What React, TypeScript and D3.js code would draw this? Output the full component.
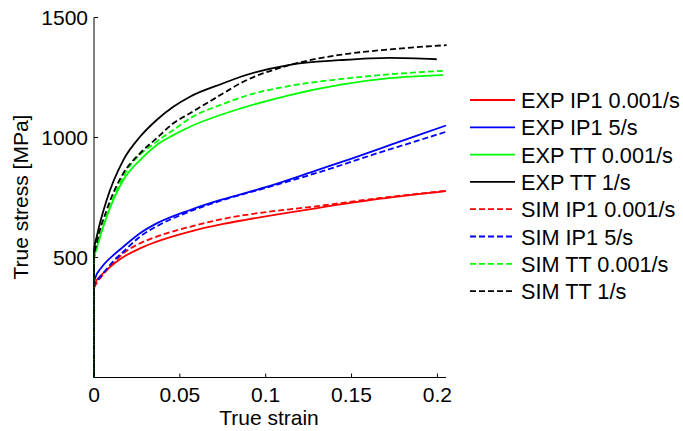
import React from "react";
import * as d3 from "d3";

type Pt = [number, number];

const expIP1Slow: Pt[] = [[0,0],[0,375],[0.001,397],[0.004,425],[0.008,452],[0.012,476],[0.0171,502],[0.0268,538],[0.0365,566],[0.0559,608],[0.0753,640],[0.089,658],[0.13,706],[0.167,745],[0.205,777]];
const expIP1Fast: Pt[] = [[0,0],[0,395],[0.001,420],[0.004,455],[0.0113,510],[0.0171,545],[0.0268,601],[0.0365,642],[0.0559,698],[0.0753,743],[0.089,770],[0.1,793],[0.13,864],[0.15,912],[0.167,955],[0.186,1003],[0.205,1050]];
const expTTSlow: Pt[] = [[0,0],[0,495],[0.0016,540],[0.0074,670],[0.0171,823],[0.0268,906],[0.0365,969],[0.0462,1010],[0.0559,1045],[0.0753,1098],[0.085,1120],[0.114,1177],[0.143,1219],[0.172,1247],[0.2034,1260]];
const expTTFast: Pt[] = [[0,0],[0,530],[0.0016,587],[0.0074,740],[0.0171,906],[0.0268,1003],[0.0365,1073],[0.0462,1128],[0.0559,1170],[0.0753,1226],[0.085,1252],[0.114,1303],[0.143,1322],[0.172,1332],[0.1996,1326]];
const simIP1Slow: Pt[] = [[0,0],[0,370],[0.002,398],[0.006,435],[0.0113,478],[0.0171,517],[0.0268,559],[0.0365,587],[0.0559,628],[0.0753,661],[0.089,678],[0.13,714],[0.167,748],[0.205,778]];
const simIP1Fast: Pt[] = [[0,0],[0,385],[0.002,405],[0.006,440],[0.0113,485],[0.0171,524],[0.0268,587],[0.0365,630],[0.0559,692],[0.0753,740],[0.1,790],[0.13,853],[0.167,939],[0.186,981],[0.205,1024]];
const simTTSlow: Pt[] = [[0,0],[0,490],[0.0016,535],[0.0074,675],[0.0171,837],[0.0365,983],[0.0462,1031],[0.0559,1080],[0.0753,1140],[0.089,1175],[0.114,1215],[0.143,1243],[0.172,1263],[0.2034,1278]];
const simTTFast: Pt[] = [[0,0],[0,500],[0.0016,560],[0.0074,698],[0.0171,851],[0.0268,934],[0.0365,997],[0.0462,1059],[0.0559,1101],[0.0753,1184],[0.085,1225],[0.114,1302],[0.143,1344],[0.172,1367],[0.2054,1385]];

const seriesNames = ["EXP IP1 0.001/s","EXP IP1 5/s","EXP TT 0.001/s","EXP TT 1/s","SIM IP1 0.001/s","SIM IP1 5/s","SIM TT 0.001/s","SIM TT 1/s"];
const seriesData = [expIP1Slow, expIP1Fast, expTTSlow, expTTFast, simIP1Slow, simIP1Fast, simTTSlow, simTTFast];
const seriesColors = ["#ff0000","#0000ff","#00ff00","#000000","#ff0000","#0000ff","#00ff00","#000000"];
const seriesDashed = [false,false,false,false,true,true,true,true];

const xTicks = [0, 0.05, 0.1, 0.15, 0.2];
const xTickLabels = ["0", "0.05", "0.1", "0.15", "0.2"];
const yTicks = [500, 1000, 1500];
const yTickLabels = ["500", "1000", "1500"];

export default function App() {
  const W = 683, H = 431;
  const x = d3.scaleLinear().domain([0, 0.205]).range([94, 446]);
  const y = d3.scaleLinear().domain([0, 1500]).range([377.5, 17.5]);
  const line = d3.line<Pt>().x(d => x(d[0])).y(d => y(d[1])).curve(d3.curveMonotoneX);
  const font = "Arial, 'Liberation Sans', sans-serif";
  const fs = 21;
  return (
    <svg width={W} height={H} style={{ position: "absolute", left: 0, top: 0 }} fontFamily={font}>
      <rect width={W} height={H} fill="#fff" />
      <line x1={x(0)} x2={x(0.205)} y1={y(0)} y2={y(0)} stroke="#000" strokeWidth={1} />
      <line x1={x(0)} x2={x(0)} y1={y(0)} y2={y(1500)} stroke="#000" strokeWidth={1} />
      {xTicks.map((t, i) => (
        <g key={"xt" + i}>
          <line x1={x(t)} x2={x(t)} y1={y(0)} y2={y(0) - 4} stroke="#000" />
          <text x={x(t)} y={402} fontSize={fs} textAnchor="middle" fill="#000">{xTickLabels[i]}</text>
        </g>
      ))}
      {yTicks.map((t, i) => (
        <g key={"yt" + i}>
          <line x1={x(0)} x2={x(0) + 4} y1={y(t)} y2={y(t)} stroke="#000" />
          <text x={88} y={y(t) + 7.5} fontSize={fs} textAnchor="end" fill="#000">{yTickLabels[i]}</text>
        </g>
      ))}
      <text x={269} y={425} fontSize={fs} textAnchor="middle" fill="#000">True strain</text>
      <text transform={`translate(28,197) rotate(-90)`} fontSize={fs} textAnchor="middle" fill="#000">True stress [MPa]</text>
      {seriesData.map((d, i) => (
        <path key={"s" + i} d={line(d) || ""} fill="none" stroke={seriesColors[i]} strokeWidth={1.8}
          strokeDasharray={seriesDashed[i] ? "6,3" : undefined} />
      ))}
      {seriesNames.map((n, i) => {
        const ly = 100 + i * 27.3;
        return (
          <g key={"l" + i}>
            <line x1={470} x2={515} y1={ly} y2={ly} stroke={seriesColors[i]} strokeWidth={1.8}
              strokeDasharray={seriesDashed[i] ? "6,3" : undefined} />
            <text x={521} y={ly + 8} fontSize={21.7} fill="#000">{n}</text>
          </g>
        );
      })}
    </svg>
  );
}
